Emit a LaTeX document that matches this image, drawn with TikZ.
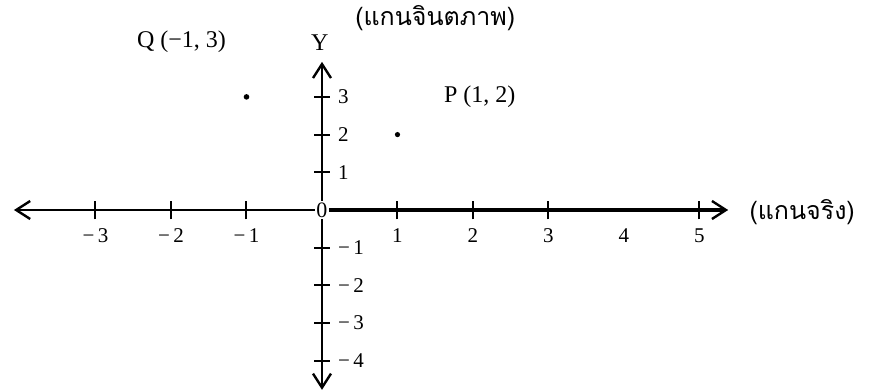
\documentclass[tikz,border=0pt]{standalone}
\usepackage{fontspec}
\setmainfont{Liberation Serif}
\newfontfamily\thaifont[Script=Thai]{Loma}
\usetikzlibrary{arrows.meta}

\begin{document}
\begin{tikzpicture}[x=37.75pt,y=18.85pt,
    axisline/.style={line width=1.1pt},
    boldaxis/.style={line width=2.2pt},
    axistip/.style={-{Straight Barb[length=7pt,width=9pt,line width=1.2pt]}},
    tick/.style={line width=1pt},
    ticklabel/.style={font=\fontsize{10.5}{12}\selectfont},
    ptlabel/.style={font=\fontsize{12}{14}\selectfont},
    thailabel/.style={font=\thaifont\fontsize{12.5}{14}\selectfont}]

\useasboundingbox (-161pt,-90.5pt) rectangle (276.5pt,105pt);

% Draw the end points of the axes
\coordinate (xleft) at (-4.08,0);
\coordinate (xright) at (5.38,0);
\coordinate (ytop) at (0,3.93);
\coordinate (ybottom) at (0,-4.77);

% The origin
\node[fill=white,inner sep=0.6pt,font=\fontsize{11}{12}\selectfont] (O) at (0,0) {0};

% Draw the axes
\draw[axisline,axistip] (O) -- (xleft);
\draw[boldaxis,axistip] (O) -- (xright);
\draw[axisline,axistip] (O) -- (ytop);
\draw[axisline,axistip] (O) -- (ybottom);

% Draw the ticks on the real axis
\foreach \x in {-3,-2,-1,1,2,3,5} {
    \draw[tick] (\x,-0.25) -- (\x,0.25);
}
\foreach \x/\t in {-3/{−\,3},-2/{−\,2},-1/{−\,1},1/1,2/2,3/3,4/4,5/5} {
    \node[ticklabel] (xl\x) at (\x,-0.68) {\t};
}

% Draw the ticks on the imaginary axis
\foreach \y/\t in {3/3,2/2,1/1,-1/{−\,1},-2/{−\,2},-3/{−\,3},-4/{−\,4}} {
    \draw[tick] (-0.1,\y) -- (0.1,\y);
    \node[ticklabel,anchor=west] (yl\y) at (0.12,\y) {\t};
}

% The points
\fill (-1,3) circle (1.4pt);
\fill (1,2) circle (1.3pt);

% Labels
\node[ptlabel] (Q) at (-1.86,4.46) {Q (−1, 3)};
\node[ptlabel] (P) at (2.09,3.0) {P (1, 2)};
\node[ptlabel] (Y) at (-0.03,4.43) {Y};
\node[thailabel] (imag) at (1.5,5.09) {(แกนจินตภาพ)};
\node[thailabel] (real) at (6.36,-0.05) {(แกนจริง)};

\end{tikzpicture}
\end{document}
